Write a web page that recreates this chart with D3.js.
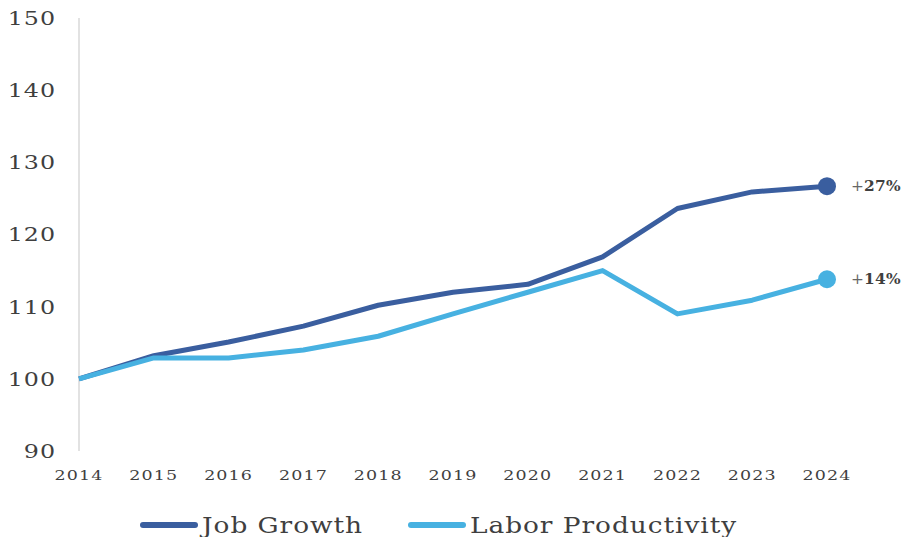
<!DOCTYPE html>
<html>
<head>
<meta charset="utf-8">
<script src="https://cdn.jsdelivr.net/npm/d3@7"></script>
<style>
  body { margin: 0; background: #fff; }
  svg text { font-family: 'DejaVu Serif', serif; fill: #3f3f3f; }
</style>
</head>
<body>
<svg id="chart" width="905" height="537"></svg>
<script>
const years = [2014, 2015, 2016, 2017, 2018, 2019, 2020, 2021, 2022, 2023, 2024]
const jobGrowth = [100, 103.2, 105.1, 107.3, 110.2, 112.0, 113.1, 116.9, 123.6, 125.9, 126.7]
const laborProductivity = [100, 102.9, 102.9, 104.0, 105.9, 109.0, 112.0, 115.0, 109.0, 110.9, 113.8]
const yTicks = [90, 100, 110, 120, 130, 140, 150]
const seriesNames = ['Job Growth', 'Labor Productivity']
const endLabels = ['27%', '14%']
const colors = ['#3a5e9f', '#47b1e1']

const margin = { top: 18, right: 78, bottom: 86, left: 79 }
const width = 905 - margin.left - margin.right
const height = 537 - margin.top - margin.bottom

const svg = d3.select('#chart')
  .append('g')
  .attr('transform', `translate(${margin.left},${margin.top})`)

const x = d3.scaleLinear().domain([2014, 2024]).range([0, width])
const y = d3.scaleLinear().domain([90, 150]).range([height, 0])

// wide lettering: stretch text horizontally
const wide = (px, py, s) => `translate(${px},${py}) scale(${s},1)`

// y axis labels
svg.append('g')
  .selectAll('text')
  .data(yTicks)
  .enter().append('text')
  .attr('transform', d => wide(-23, y(d), 1.25))
  .attr('dy', '0.36em')
  .attr('text-anchor', 'end')
  .style('font-size', '19px')
  .style('letter-spacing', '0.8px')
  .text(d => d)

svg.append('line')
  .attr('x1', 0).attr('x2', 0)
  .attr('y1', 0).attr('y2', height)
  .attr('stroke', '#d9d9d9')
  .attr('stroke-width', 1.5)

// x axis labels
svg.append('g')
  .selectAll('text')
  .data(years)
  .enter().append('text')
  .attr('transform', d => wide(x(d), height + 29, 1.4))
  .attr('text-anchor', 'middle')
  .style('font-size', '12.5px')
  .style('letter-spacing', '0.8px')
  .text(d => d)

const series = [jobGrowth, laborProductivity]
const line = d3.line()
  .x((d, i) => x(years[i]))
  .y(d => y(d))

series.forEach((s, k) => {
  svg.append('path')
    .datum(s)
    .attr('fill', 'none')
    .attr('stroke', colors[k])
    .attr('stroke-width', 5)
    .attr('stroke-linejoin', 'round')
    .attr('d', line)

  const last = s[s.length - 1]
  svg.append('circle')
    .attr('cx', x(years[years.length - 1]))
    .attr('cy', y(last))
    .attr('r', 9)
    .attr('fill', colors[k])

  const lbl = svg.append('text')
    .attr('transform', wide(x(years[years.length - 1]) + 24, y(last), 1.1))
    .attr('dy', '0.36em')
    .style('font-size', '14px')
  lbl.append('tspan').style('fill', '#666').text('+')
  lbl.append('tspan').style('font-weight', 'bold').style('letter-spacing', '0.3px').text(endLabels[k])
})

// legend
const legendX = [140, 408]
const legend = svg.append('g')
  .attr('transform', `translate(${-margin.left},${-margin.top})`)
seriesNames.forEach((name, k) => {
  legend.append('line')
    .attr('x1', legendX[k] + 3).attr('x2', legendX[k] + 55)
    .attr('y1', 525).attr('y2', 525)
    .attr('stroke', colors[k])
    .attr('stroke-width', 6)
    .attr('stroke-linecap', 'round')
  legend.append('text')
    .attr('transform', wide(legendX[k] + 62, 525, 1.2))
    .attr('dy', '0.36em')
    .style('font-size', '22px')
    .style('letter-spacing', '0.8px')
    .text(name)
})
</script>
</body>
</html>
